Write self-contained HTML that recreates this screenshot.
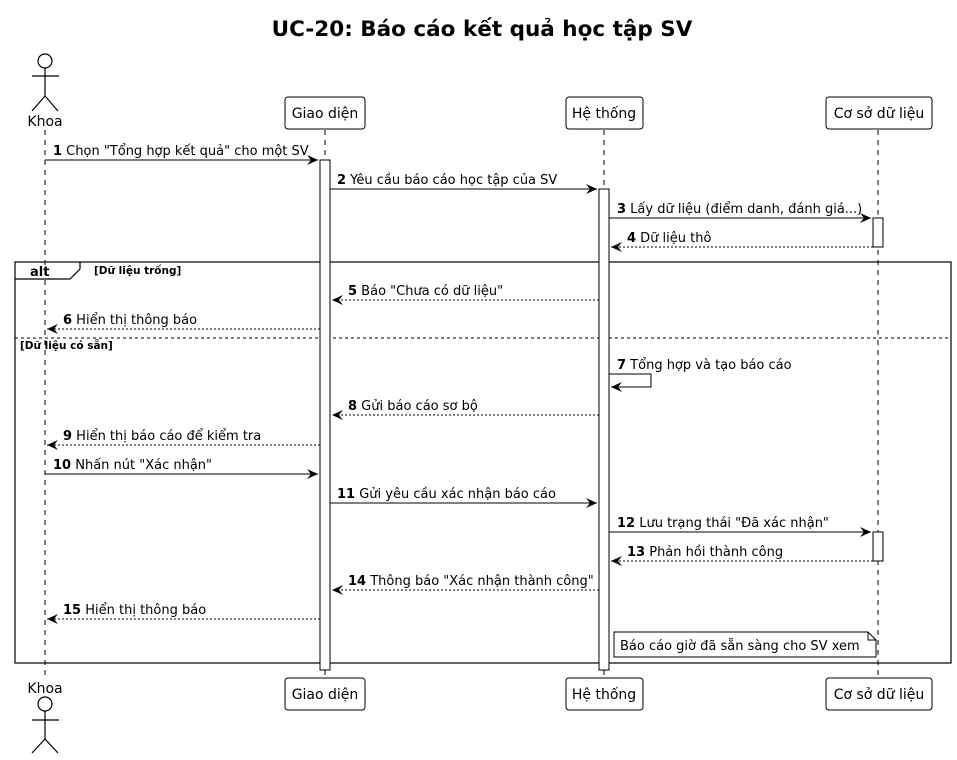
<!DOCTYPE html>
<html><head><meta charset="utf-8"><style>
html,body{margin:0;padding:0;background:#fff;}
svg{display:block;}
text{font-family:"DejaVu Sans","Liberation Sans",sans-serif;font-size:13px;fill:#000;}
.b{font-weight:bold;}
.p{font-size:14px;}
</style></head><body>
<svg width="957" height="760" viewBox="0 0 957 760" xmlns="http://www.w3.org/2000/svg">
<defs>
<marker id="a" markerWidth="12" markerHeight="10" refX="11" refY="5" orient="auto" markerUnits="userSpaceOnUse"><path d="M0,0 L11,5 L0,10 L4,5 Z" fill="#000"/></marker>
</defs>
<text x="482" y="36" text-anchor="middle" style="font-size:21.5px;font-weight:bold">UC-20: Báo cáo kết quả học tập SV</text>
<g stroke="#000" stroke-dasharray="5,5" stroke-width="1">
<line x1="45" y1="130" x2="45" y2="680"/>
<line x1="325" y1="130" x2="325" y2="678"/>
<line x1="604" y1="130" x2="604" y2="678"/>
<line x1="878" y1="130" x2="878" y2="678"/>
</g>
<g fill="none" stroke="#000" stroke-width="1.2">
<circle cx="45" cy="61" r="7" fill="#fff"/><line x1="45" y1="68" x2="45" y2="96"/><line x1="32" y1="76" x2="59" y2="76"/><path d="M32,111 L45,96 L58,111"/>
<circle cx="45" cy="704" r="7" fill="#fff"/><line x1="45" y1="711" x2="45" y2="739"/><line x1="32" y1="720" x2="59" y2="720"/><path d="M32,753 L45,739 L58,753"/>
</g>
<text x="45" y="126" text-anchor="middle" class="p">Khoa</text>
<text x="45" y="693" text-anchor="middle" class="p">Khoa</text>
<g fill="#fff" stroke="#000" stroke-width="1">
<rect x="285" y="97" width="80" height="32" rx="3"/>
<rect x="566" y="97" width="77" height="32" rx="3"/>
<rect x="826" y="97" width="106" height="32" rx="3"/>
<rect x="285" y="678" width="80" height="32" rx="3"/>
<rect x="566" y="678" width="77" height="32" rx="3"/>
<rect x="826" y="678" width="106" height="32" rx="3"/>
</g>
<text x="325" y="118" text-anchor="middle" class="p">Giao diện</text>
<text x="604" y="118" text-anchor="middle" class="p">Hệ thống</text>
<text x="879" y="118" text-anchor="middle" class="p">Cơ sở dữ liệu</text>
<text x="325" y="699" text-anchor="middle" class="p">Giao diện</text>
<text x="604" y="699" text-anchor="middle" class="p">Hệ thống</text>
<text x="879" y="699" text-anchor="middle" class="p">Cơ sở dữ liệu</text>
<g fill="none" stroke="#000" stroke-width="1.2">
<rect x="15" y="262" width="936" height="401"/>
<path d="M15,279 L70,279 L80,269 L80,262"/>
</g>
<line x1="15" y1="338" x2="951" y2="338" stroke="#000" stroke-dasharray="3,3"/>
<text x="30" y="276" class="b">alt</text>
<text x="94" y="274" class="b" style="font-size:10.5px">[Dữ liệu trống]</text>
<text x="20" y="349" class="b" style="font-size:10.5px">[Dữ liệu có sẵn]</text>
<g fill="#fff" stroke="#000" stroke-width="1">
<rect x="320" y="160" width="10" height="510"/>
<rect x="599" y="189" width="10" height="481"/>
<rect x="873" y="218" width="10" height="29"/>
<rect x="873" y="532" width="10" height="29"/>
</g>
<g stroke="#000" stroke-width="1" fill="none">
<line x1="45" y1="160" x2="318" y2="160" marker-end="url(#a)"/>
<line x1="330" y1="189" x2="597" y2="189" marker-end="url(#a)"/>
<line x1="609" y1="218" x2="871" y2="218" marker-end="url(#a)"/>
<line x1="873" y1="247" x2="611" y2="247" stroke-dasharray="2,2" marker-end="url(#a)"/>
<line x1="599" y1="300" x2="332" y2="300" stroke-dasharray="2,2" marker-end="url(#a)"/>
<line x1="320" y1="329" x2="47" y2="329" stroke-dasharray="2,2" marker-end="url(#a)"/>
<path d="M609,374 L651,374 L651,387 L611,387" marker-end="url(#a)"/>
<line x1="599" y1="415" x2="332" y2="415" stroke-dasharray="2,2" marker-end="url(#a)"/>
<line x1="320" y1="445" x2="47" y2="445" stroke-dasharray="2,2" marker-end="url(#a)"/>
<line x1="45" y1="474" x2="318" y2="474" marker-end="url(#a)"/>
<line x1="330" y1="503" x2="597" y2="503" marker-end="url(#a)"/>
<line x1="609" y1="532" x2="871" y2="532" marker-end="url(#a)"/>
<line x1="873" y1="561" x2="611" y2="561" stroke-dasharray="2,2" marker-end="url(#a)"/>
<line x1="599" y1="590" x2="332" y2="590" stroke-dasharray="2,2" marker-end="url(#a)"/>
<line x1="320" y1="619" x2="47" y2="619" stroke-dasharray="2,2" marker-end="url(#a)"/>
</g>
<text x="53" y="155"><tspan class="b">1</tspan> Chọn "Tổng hợp kết quả" cho một SV</text>
<text x="337" y="184"><tspan class="b">2</tspan> Yêu cầu báo cáo học tập của SV</text>
<text x="617" y="213"><tspan class="b">3</tspan> Lấy dữ liệu (điểm danh, đánh giá...)</text>
<text x="627" y="242"><tspan class="b">4</tspan> Dữ liệu thô</text>
<text x="348" y="295"><tspan class="b">5</tspan> Báo "Chưa có dữ liệu"</text>
<text x="63" y="324"><tspan class="b">6</tspan> Hiển thị thông báo</text>
<text x="617" y="369"><tspan class="b">7</tspan> Tổng hợp và tạo báo cáo</text>
<text x="348" y="410"><tspan class="b">8</tspan> Gửi báo cáo sơ bộ</text>
<text x="63" y="440"><tspan class="b">9</tspan> Hiển thị báo cáo để kiểm tra</text>
<text x="53" y="469"><tspan class="b">10</tspan> Nhấn nút "Xác nhận"</text>
<text x="337" y="498"><tspan class="b">11</tspan> Gửi yêu cầu xác nhận báo cáo</text>
<text x="617" y="527"><tspan class="b">12</tspan> Lưu trạng thái "Đã xác nhận"</text>
<text x="627" y="556"><tspan class="b">13</tspan> Phản hồi thành công</text>
<text x="348" y="585"><tspan class="b">14</tspan> Thông báo "Xác nhận thành công"</text>
<text x="63" y="614"><tspan class="b">15</tspan> Hiển thị thông báo</text>
<path d="M614,632 L868,632 L876,640 L876,657 L614,657 Z" fill="#fff" stroke="#000" stroke-width="1"/>
<path d="M868,632 L868,640 L876,640" fill="none" stroke="#000" stroke-width="1"/>
<text x="620" y="650">Báo cáo giờ đã sẵn sàng cho SV xem</text>
</svg>
</body></html>
